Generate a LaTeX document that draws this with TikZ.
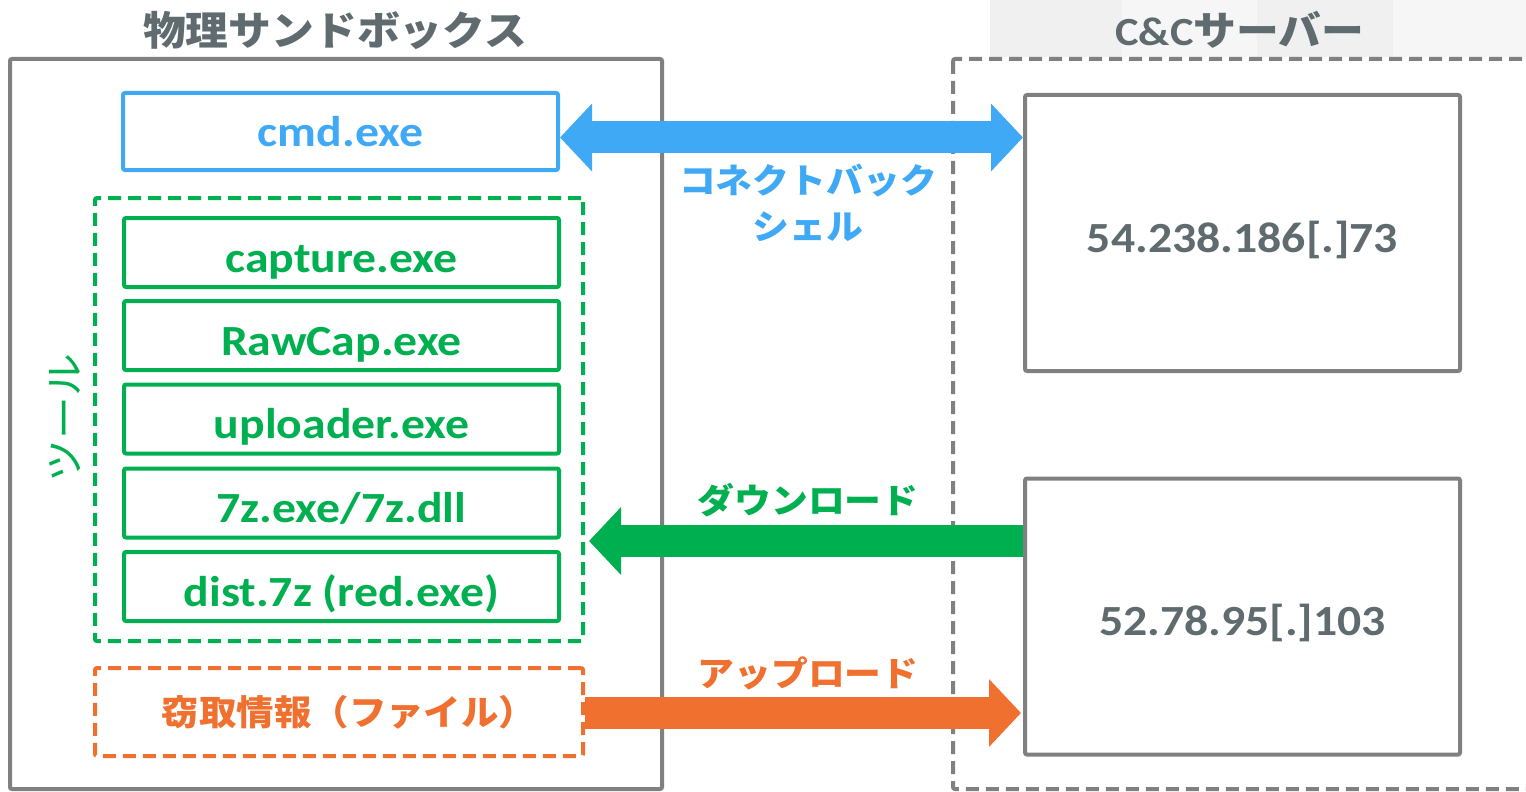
\documentclass[tikz,border=0pt]{standalone}
\usepackage{fontspec}
\setmainfont{Carlito}
\newfontfamily\lat{Carlito}[FakeStretch=1.11]
\newfontfamily\jp{Noto Sans CJK JP}[FakeStretch=1.07]
\usetikzlibrary{arrows.meta}
\definecolor{cblue}{HTML}{3FA9F5}
\definecolor{cgreen}{HTML}{00B050}
\definecolor{corange}{HTML}{F07030}
\definecolor{cgray}{HTML}{808080}
\definecolor{ctext}{HTML}{5F6B6E}
\definecolor{bandA}{HTML}{F0F0F0}
\definecolor{bandB}{HTML}{F6F6F6}
\tikzset{
  box/.style={draw, line width=2pt, inner sep=0pt, rounded corners=1pt},
  dbox/.style={box, dash pattern=on 6.5pt off 3.5pt},
  item/.style={box, draw=cgreen, text=cgreen, minimum width=217.5pt, minimum height=34.5pt,
    text height=19.5pt, text depth=0pt,
    font=\lat\bfseries\fontsize{21.5}{24}\selectfont},
  srv/.style={box, draw=cgray, text=ctext, minimum width=217.5pt, minimum height=138pt,
    text height=19pt, text depth=0pt,
    font=\lat\bfseries\fontsize{21.5}{24}\selectfont},
  ttl/.style={text=ctext, font=\jp\bfseries\fontsize{20}{24}\selectfont},
  lbl/.style={align=center, font=\jp\bfseries\fontsize{17.2}{23}\selectfont},
  fat/.style={line width=16pt},
}
\begin{document}
\begin{tikzpicture}[x=0.5pt,y=-0.5pt]
\useasboundingbox (0,0) rectangle (1526,792);
% background band at top right
\fill[bandA] (990,0) rectangle (1526,57);
\fill[bandB] (1122,0) rectangle (1257,57);
\fill[bandB] (1393,0) rectangle (1526,57);
% titles
\node[ttl] (t1) at (335,30) {物理サンドボックス};
\node[ttl] (t2) at (1240,30) {{\lat C\&C}サーバー};
% containers
\node[box, draw=cgray, minimum width=326pt, minimum height=365pt] (sandbox) at (336,424) {};
\draw[cgray, line width=2pt, dash pattern=on 6.5pt off 3.5pt, rounded corners=1pt] (953,59) rectangle (1560,789);
% cmd
\node[box, draw=cblue, text=cblue, minimum width=217.5pt, minimum height=38.5pt,
  text height=15.5pt, text depth=0pt,
  font=\lat\bfseries\fontsize{21.5}{24}\selectfont] (cmd) at (340.5,131.5) {cmd.exe};
% tools
\node[dbox, draw=cgreen, minimum width=244pt, minimum height=221.5pt] (tools) at (339,419.5) {};
\node[item] (i1) at (341.5,252.5) {capture.exe};
\node[item] (i2) at (341.5,335.5) {RawCap.exe};
\node[item] (i3) at (341.5,419) {uploader.exe};
\node[item] (i4) at (341.5,503) {7z.exe/7z.dll};
\node[item] (i5) at (341.5,586.5) {dist.7z (red.exe)};
\node[rotate=90, text=cgreen, font=\jp\fontsize{20}{24}\selectfont] (toollbl) at (65,418) {ツール};
% stolen info
\node[dbox, draw=corange, text=corange, minimum width=244pt, minimum height=44pt,
  font=\jp\bfseries\fontsize{17.5}{20}\selectfont] (steal) at (339,712) {\hspace*{10pt}窃取情報（ファイル）};
% servers
\node[srv] (srv1) at (1242.5,233) {54.238.186[.]73};
\node[srv] (srv2) at (1242.5,616.5) {52.78.95[.]103};
% arrows
\draw[fat, cblue, {Triangle[length=16pt,width=33pt]}-{Triangle[length=16pt,width=33pt]}]
  ([yshift=-3pt]cmd.east) -- ([yshift=-3pt]cmd.east -| srv1.west);
\coordinate (gy) at (0,541);
\draw[fat, cgreen, -{Triangle[length=16pt,width=33pt]}]
  (srv2.west |- gy) -- ([xshift=2pt]tools.east |- gy);
\draw[fat, corange, -{Triangle[length=16pt,width=33pt]}]
  ([yshift=-0.5pt]steal.east) -- ([yshift=-0.5pt,xshift=-1pt]steal.east -| srv2.west);
% arrow labels
\node[lbl, text=cblue] (lconn) at (808,203) {コネクトバック\\シェル};
\node[lbl, text=cgreen] (ldown) at (808,500) {ダウンロード};
\node[lbl, text=corange] (lup) at (808,673) {アップロード};
\end{tikzpicture}
\end{document}
